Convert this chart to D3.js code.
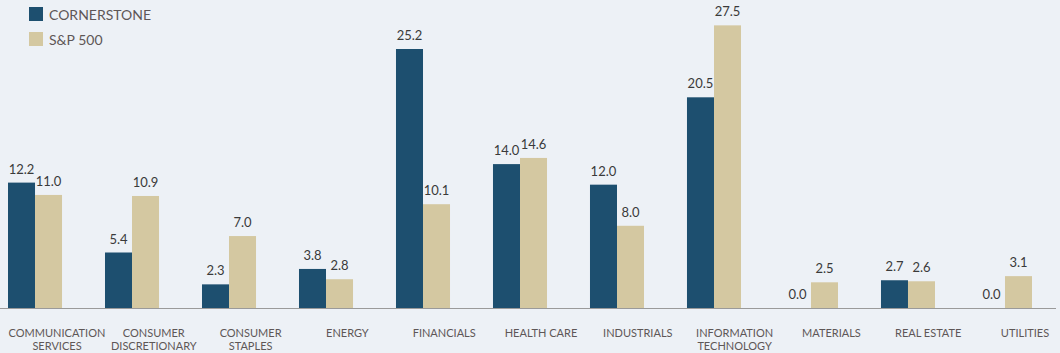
<!DOCTYPE html>
<html>
<head>
<meta charset="utf-8">
<script src="https://cdn.jsdelivr.net/npm/d3@7"></script>
<style>
  html, body { margin: 0; padding: 0; background: #edf1f6; }
  svg { display: block; }
  .value-label { font-family: Lato, "Open Sans", sans-serif; font-size: 13px; fill: #3a3a3a; }
  .cat-label { font-family: Lato, "Open Sans", sans-serif; font-size: 11px; fill: #5e5757; }
  .legend-label { font-family: Lato, "Open Sans", sans-serif; font-size: 14px; fill: #5e5757; }
</style>
</head>
<body>
<svg id="chart"></svg>
<script>
// sector weights, % of portfolio
const categories = [
  "COMMUNICATION SERVICES", "CONSUMER DISCRETIONARY", "CONSUMER STAPLES", "ENERGY",
  "FINANCIALS", "HEALTH CARE", "INDUSTRIALS", "INFORMATION TECHNOLOGY",
  "MATERIALS", "REAL ESTATE", "UTILITIES"
];
const seriesNames = ["CORNERSTONE", "S&P 500"];
const cornerstone = [12.2, 5.4, 2.3, 3.8, 25.2, 14.0, 12.0, 20.5, 0.0, 2.7, 0.0];
const sp500 = [11.0, 10.9, 7.0, 2.8, 10.1, 14.6, 8.0, 27.5, 2.5, 2.6, 3.1];
// label lines for the x axis (two-line categories are split)
const labelLines = [
  ["COMMUNICATION", "SERVICES"], ["CONSUMER", "DISCRETIONARY"], ["CONSUMER", "STAPLES"], ["ENERGY"],
  ["FINANCIALS"], ["HEALTH CARE"], ["INDUSTRIALS"], ["INFORMATION", "TECHNOLOGY"],
  ["MATERIALS"], ["REAL ESTATE"], ["UTILITIES"]
];

const width = 1060, height = 353;
const colors = ["#1d4f6f", "#d4c8a1"];
const baseY = 308;

const svg = d3.select("#chart").attr("width", width).attr("height", height);

// group scale: each group is two bars of ~27px, step ~97px
const x0 = d3.scaleBand()
  .domain(categories)
  .range([8, 1032])
  .paddingInner(0.443)
  .paddingOuter(0);

const x1 = d3.scaleBand()
  .domain(seriesNames)
  .range([0, x0.bandwidth()]);

const y = d3.scaleLinear().domain([0, 25.2]).range([baseY, 49]);

const data = categories.map((c, i) => ({
  key: c,
  values: [
    { series: seriesNames[0], value: cornerstone[i] },
    { series: seriesNames[1], value: sp500[i] }
  ]
}));

const groups = svg.selectAll(".group")
  .data(data)
  .join("g")
  .attr("class", "group")
  .attr("transform", d => `translate(${x0(d.key)},0)`);

groups.selectAll("rect")
  .data(d => d.values)
  .join("rect")
  .attr("x", d => x1(d.series))
  .attr("y", d => y(d.value))
  .attr("width", x1.bandwidth())
  .attr("height", d => baseY - y(d.value))
  .attr("fill", (d, i) => colors[i]);

groups.selectAll(".value-label")
  .data(d => d.values)
  .join("text")
  .attr("class", "value-label")
  .attr("x", d => x1(d.series) + x1.bandwidth() / 2)
  .attr("y", d => y(d.value) - 9)
  .attr("text-anchor", "middle")
  .text(d => d.value.toFixed(1));

// baseline
svg.append("line")
  .attr("x1", 0).attr("x2", 1056)
  .attr("y1", baseY + 0.5).attr("y2", baseY + 0.5)
  .attr("stroke", "#9a9a9a")
  .attr("stroke-width", 1);

// category labels sit on a slightly different spacing than the bars
const xLabel = d3.scalePoint().domain(categories).range([57, 1025]);

const catLabels = svg.selectAll(".cat-label")
  .data(categories)
  .join("text")
  .attr("class", "cat-label")
  .attr("text-anchor", "middle")
  .attr("x", d => xLabel(d))
  .attr("y", 337);

catLabels.selectAll("tspan")
  .data((d, i) => labelLines[i])
  .join("tspan")
  .attr("x", function () { return d3.select(this.parentNode).attr("x"); })
  .attr("dy", (d, i) => i === 0 ? 0 : 12.5)
  .text(d => d);

// legend
const legend = svg.selectAll(".legend")
  .data(seriesNames)
  .join("g")
  .attr("class", "legend")
  .attr("transform", (d, i) => `translate(29,${7 + i * 25})`);

legend.append("rect")
  .attr("width", 14)
  .attr("height", 14)
  .attr("fill", (d, i) => colors[i]);

legend.append("text")
  .attr("class", "legend-label")
  .attr("x", 20)
  .attr("y", 12.5)
  .text(d => d);
</script>
</body>
</html>
